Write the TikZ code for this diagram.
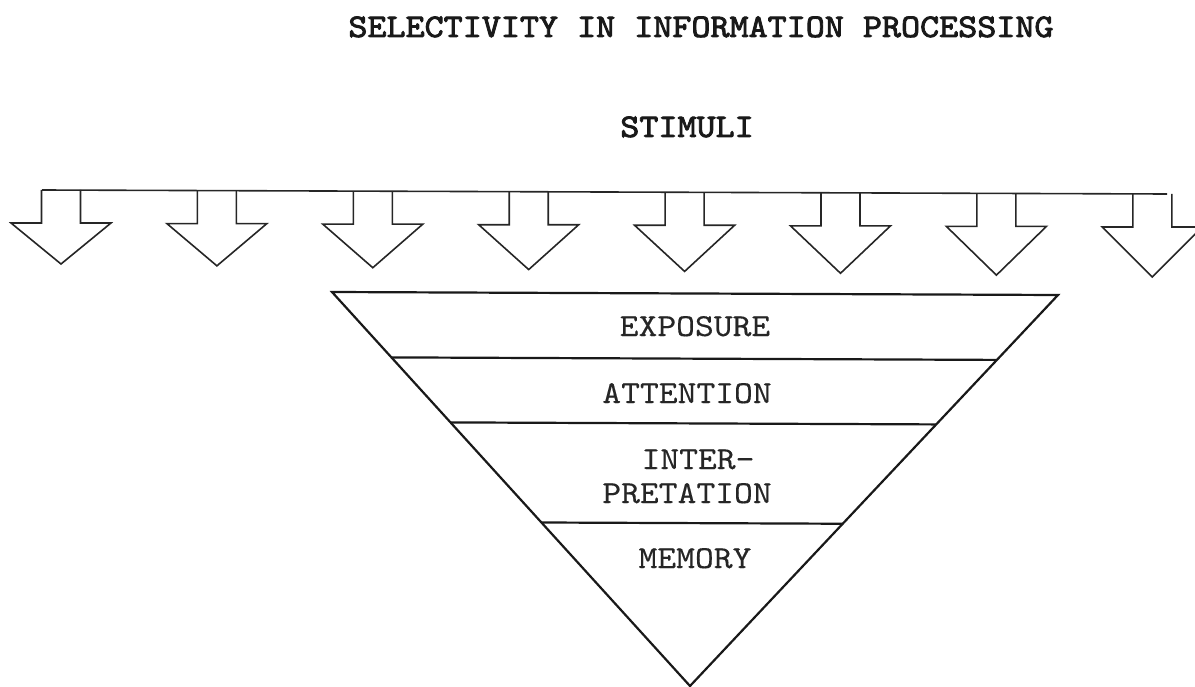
\documentclass[tikz,border=0pt]{standalone}
\usepackage{fontspec}
\newfontfamily\courfont{lmmono10-regular.otf}[FakeStretch=1.12, FakeBold=0.3]
\newfontfamily\courbold{lmmono10-regular.otf}[FakeStretch=1.1, FakeBold=2.6]
\usetikzlibrary{calc}
\begin{document}
\begin{tikzpicture}[x=1bp,y=-1bp,
  stagetext/.style={font=\courfont\fontsize{32bp}{34bp}\selectfont, anchor=base, inner sep=0pt, text=black!85},
  heading/.style={font=\courbold\fontsize{33bp}{35bp}\selectfont, anchor=base, inner sep=0pt, text=black!90},
  stimarrow/.style={draw=black!85, line width=1.6bp, line join=miter},
  funnel/.style={draw=black!90, line width=2.2bp, line join=miter},
]
\useasboundingbox (0,0) rectangle (1195,687);

% headings
\node[heading] (title) at (701,37) {SELECTIVITY IN INFORMATION PROCESSING};
\node[heading] (stimuli) at (687,137) {STIMULI};

% bar of incoming stimuli with eight block arrows
\coordinate (barL) at (42,190);
\coordinate (barR) at (1167,194);
\draw[stimarrow] (barL) -- (barR);
\foreach \i in {0,...,7}{
  \pgfmathsetmacro{\cx}{61+155.9*\i}
  \pgfmathsetmacro{\ty}{190+4*\i/7}
  \pgfmathsetmacro{\sy}{223+4*\i/7}
  \pgfmathsetmacro{\py}{264+13*\i/7}
  \draw[stimarrow] (\cx-19.5,\ty) -- (\cx-19.5,\sy) -- (\cx-50,\sy)
    -- (\cx,\py) -- (\cx+50,\sy) -- (\cx+19.5,\sy) -- (\cx+19.5,\ty);
}

% processing funnel
\coordinate (TL) at (332,292);
\coordinate (TR) at (1058,295);
\coordinate (TP) at (690,686);
\draw[funnel] (TL) -- (TR) -- (TP) -- cycle;
\foreach \t in {0.166,0.331,0.585}{
  \draw[funnel] ($(TL)!\t!(TP)$) -- ($(TR)!\t!(TP)$);
}

% stage labels
\node[stagetext] (exposure) at (695,336) {EXPOSURE};
\node[stagetext] (attention) at (687,403) {ATTENTION};
\node[stagetext] (inter) at (698,469) {INTER-};
\node[stagetext] (pretation) at (687,503) {PRETATION};
\node[stagetext] (memory) at (695,568) {MEMORY};
\end{tikzpicture}
\end{document}
